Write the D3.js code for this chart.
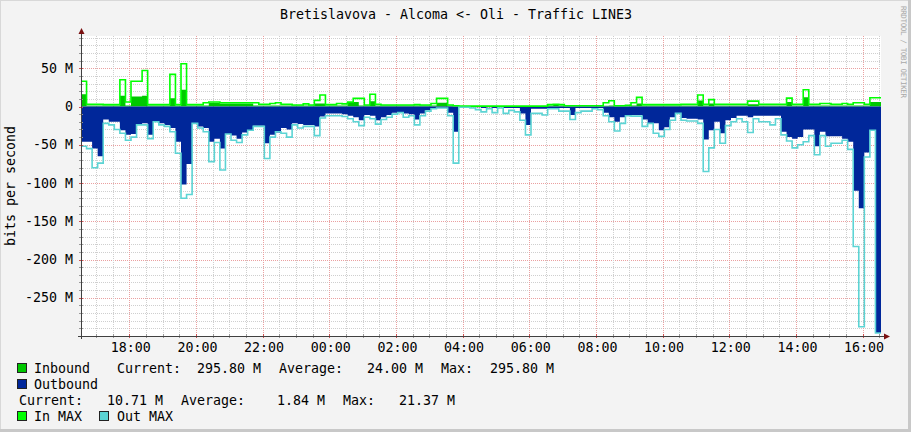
<!DOCTYPE html>
<html><head><meta charset="utf-8">
<script src="https://cdn.jsdelivr.net/npm/d3@7"></script>
<style>
body{margin:0;background:#f3f3f3}
svg{display:block}
text{font-family:"DejaVu Sans Mono",monospace;fill:#000}
</style>
</head><body>
<svg id="c" width="911" height="432"></svg>
<script>
const chartTitle = "Bretislavova - Alcoma <- Oli - Traffic LINE3";
const yAxisTitle = "bits per second";
const watermark = "RRDTOOL / TOBI OETIKER";
const startTime = Date.UTC(2020, 0, 1, 16, 33, 6);
const stepMinutes = 10;

// values in Mbit/s, one per 10 minutes
const inbound = [
16,1.5,1.5,1.5,1.5,1.5,1.5,14,1.5,13,13,14,1.5,1.5,1.5,1.5,10.7,1.5,22,1.5,1.5,1.5,1.5,5,5,4,4,4,4,4,4,1.5,1.5,1.5,1.5,1.5,
1.5,1.5,1.5,1.5,1.5,1.5,4,4,1.5,1.5,1.5,1.5,6,6,1.5,1.5,7,1.5,1.5,1.5,1.5,1.5,1.5,1.5,1.5,1.5,1.5,1.5,5,5,1.5,0.3,0.3,0.3,0.3,0.3,
0.3,0.3,0.3,0.3,0.3,0.3,0.3,0.3,0.3,0.3,0.3,0.3,1.5,2,1.5,0.5,0.5,0.5,0.5,0.5,0.5,0.5,1,1.5,0.5,0.5,0.5,1.5,4,1.5,1.5,1.5,1.5,1.5,1.5,1.5,
1.5,1.5,1.5,8,1.5,4,1.5,1.5,1.5,1.5,1.5,1.5,3,3,1.5,1.5,1.5,1.5,1.5,6,1.5,1.5,12,1.5,1.5,1.5,1.5,1.5,1.5,1.5,1.5,1.5,1.5,1.5,6,6
];
const inMax = [
33,3,3,3,2.5,2.5,2.5,35,6,33,33,47,2.5,2.5,2.5,2.5,42,2.5,56,2.5,2.5,2.5,5,6,6,5,5,5,5,5,5,5,3,3,4,5,
3,3,2,2,3.5,2,8,15,2.5,2.5,4,3.5,6,10.7,10.7,2,16,3,2,2,2,2,2,2,2.5,2,2,4,10.7,10.7,2,1,0.5,0.5,0.5,0.5,
0.5,0.5,0.5,0.5,0.5,0.5,0.5,0.5,0.5,0.5,0.5,0.5,2.5,3,2.5,1,1,1,1,1,1,1,5,7.6,1,1,1.5,5,12,2.5,2.5,2.5,2.5,2.5,2.5,2.5,
3,3,3,15,3,9,3,3,3,3,3,3,7,7,3,3,3,3,3,11,3,3,22,3,3,4,4,3,3,4,3,5,5,3,11.5,11.5
];
const outbound = [
-46,-46,-55,-65,-17,-20,-20,-31,-37,-36,-24,-22,-37,-20,-22,-24,-28,-46,-102,-75,-22,-26,-28,-46,-42,-55,-36,-38,-42,-34,-32,-25,-25,-48,-37,-34,
-28,-30,-22,-23,-24,-24,-26,-13,-9,-9,-9,-10,-12,-14,-18,-11,-12,-18,-14,-11,-8,-8,-9,-10,-17,-9,-5,-3,-2,-2,-8,-33,-1,-1,-1,-1,
-2,-1,-2,-1,-2,-2,-2,-9,-24,-3,-3,-3,-2,-2,-2,-2,-11,-2,-2,-2,-2,-2,-8,-14,-20,-14,-11,-11,-11,-17,-22,-22,-31,-27,-14,-9,
-15,-16,-16,-17,-43,-31,-20,-35,-18,-15,-12,-12,-14,-12,-12,-12,-12,-12,-33,-40,-42,-40,-30,-30,-52,-33,-39,-39,-39,-42,-46,-110,-133,-60,-31,-296
];
const outMax = [
-52,-55,-80,-74,-22,-24,-30,-35,-44,-40,-24,-24,-42,-20,-24,-26,-33,-61,-120,-115,-22,-28,-33,-72,-47,-83,-36,-44,-47,-37,-31,-26,-26,-68,-40,-33,
-35,-40,-24,-28,-26,-26,-38,-15,-12,-12,-12,-13,-16,-20,-25,-14,-16,-23,-17,-14,-10,-8,-14,-12,-24,-12,-6,-3,-2,-2,-12,-74,-1,-1,-2,-4,
-7,-3,-8,-2,-9,-5,-7,-18,-37,-9,-9,-11,-3,-3,-6,-6,-17,-8,-6,-6,-3,-4,-12,-20,-32,-22,-12,-12.5,-12.5,-26,-22,-35,-39,-30,-18,-9,
-18,-19,-19,-22,-85,-54,-30,-48,-25,-20,-16,-20,-34,-16,-20,-20,-24,-16,-37,-45,-54,-50,-46,-38,-63,-38,-52,-48,-48,-44,-56,-183,-288,-66,-31,-296
];

const yTickValues = [50, 0, -50, -100, -150, -200, -250];
const yTickLabels = ["50 M", "0", "-50 M", "-100 M", "-150 M", "-200 M", "-250 M"];
const xTickHours = [18, 20, 22, 24, 26, 28, 30, 32, 34, 36, 38, 40];
const xTickLabels = ["18:00","20:00","22:00","00:00","02:00","04:00","06:00","08:00","10:00","12:00","14:00","16:00"];

const legendRow1 = ["Inbound", "Current:", "295.80 M", "Average:", "24.00 M", "Max:", "295.80 M"];
const legendRow2 = ["Outbound"];
const legendRow3 = ["Current:", "10.71 M", "Average:", "1.84 M", "Max:", "21.37 M"];
const legendRow4 = ["In MAX", "Out MAX"];

const colors = {inbound:"#00c800", outbound:"#00279a", inMax:"#00ff00", outMax:"#5cd4d4"};

const svg = d3.select("#c");
const W = 911, H = 432;
const L = 81, R = 881, T = 36, B = 336;
const dayStart = Date.UTC(2020, 0, 1, 0, 0, 0);
const x = d3.scaleUtc().domain([new Date(startTime), new Date(startTime + 24*3600*1000)]).range([L, R]);
const y = d3.scaleLinear().domain([-300, 92.2]).range([B, T]);

// background + 3D frame
svg.append("rect").attr("width", W).attr("height", H).attr("fill", "#f3f3f3");
svg.append("line").attr("x1",0).attr("y1",0.5).attr("x2",W).attr("y2",0.5).attr("stroke","#d8d8d8");
svg.append("line").attr("x1",0.5).attr("y1",0).attr("x2",0.5).attr("y2",H).attr("stroke","#d8d8d8");
svg.append("rect").attr("x",W-3).attr("y",0).attr("width",3).attr("height",H).attr("fill","#c8c8c8");
svg.append("rect").attr("x",0).attr("y",H-3).attr("width",W).attr("height",3).attr("fill","#c8c8c8");

// canvas
svg.append("rect").attr("x", L).attr("y", T).attr("width", R-L).attr("height", B-T).attr("fill", "#fff");

// grid
const grid = svg.append("g").attr("shape-rendering","crispEdges");
for (let v = -290; v <= 90; v += 10) {
  const major = v % 50 === 0;
  grid.append("line").attr("x1", L).attr("x2", R).attr("y1", Math.round(y(v))+0.5).attr("y2", Math.round(y(v))+0.5)
    .attr("stroke", major ? "#eaa0a0" : "#cfcfcf").attr("stroke-dasharray","1,1");
}
const t0 = Math.ceil((startTime - dayStart) / 1800000);
for (let k = t0; ; k++) {
  const t = dayStart + k*1800000;
  if (t > startTime + 24*3600*1000) break;
  const major = (k % 4 === 0);
  const xx = Math.round(x(new Date(t))) + 0.5;
  grid.append("line").attr("x1", xx).attr("x2", xx).attr("y1", T).attr("y2", B)
    .attr("stroke", major ? "#eaa0a0" : "#cfcfcf").attr("stroke-dasharray","1,1");
  svg.append("line").attr("x1", xx).attr("x2", xx).attr("y1", B-2).attr("y2", B+2)
    .attr("stroke", major ? "#d05050" : "#999").attr("shape-rendering","crispEdges");
}

// data
function series(arr) {
  const pts = arr.map((v, i) => ({t: new Date(startTime + i*stepMinutes*60000), v}));
  pts.push({t: new Date(startTime + arr.length*stepMinutes*60000), v: arr[arr.length-1]});
  return pts;
}
const area = d3.area().curve(d3.curveStepAfter).x(d => x(d.t)).y0(y(0)).y1(d => y(d.v));
const line = d3.line().curve(d3.curveStepAfter).x(d => x(d.t)).y(d => y(d.v));
const plot = svg.append("g");
plot.append("path").attr("d", area(series(inbound))).attr("fill", colors.inbound);
plot.append("path").attr("d", area(series(outbound))).attr("fill", colors.outbound);
plot.append("path").attr("d", line(series(inMax))).attr("fill","none").attr("stroke", colors.inMax).attr("stroke-width", 1.6);
plot.append("path").attr("d", line(series(outMax))).attr("fill","none").attr("stroke", colors.outMax).attr("stroke-width", 1.6);

// y ticks on axis
for (let v = -300; v <= 90; v += 10) {
  const yy = Math.round(y(v)) + 0.5;
  svg.append("line").attr("x1", L-2).attr("x2", L+2).attr("y1", yy).attr("y2", yy)
    .attr("stroke", v % 50 === 0 ? "#d05050" : "#999").attr("shape-rendering","crispEdges");
}

// axes
svg.append("line").attr("x1", L+0.5).attr("x2", L+0.5).attr("y1", B+3).attr("y2", T-4).attr("stroke", "#404040").attr("shape-rendering","crispEdges");
svg.append("line").attr("x1", L-3).attr("x2", R+3).attr("y1", B+0.5).attr("y2", B+0.5).attr("stroke", "#404040").attr("shape-rendering","crispEdges");
svg.append("path").attr("d", `M${L+0.5},${T-8} L${L-2.5},${T-2} L${L+3.5},${T-2} Z`).attr("fill", "#7a1010");
svg.append("path").attr("d", `M${R+9},${B+0.5} L${R+3},${B-2.5} L${R+3},${B+3.5} Z`).attr("fill", "#7a1010");

// y labels
yTickValues.forEach((v, i) => {
  svg.append("text").attr("x", 73).attr("y", y(v) + 4.5).attr("text-anchor", "end")
    .attr("font-size", "13.3px").text(yTickLabels[i]);
});
// x labels
xTickHours.forEach((h, i) => {
  svg.append("text").attr("x", x(new Date(dayStart + h*3600000)) + 1.5).attr("y", 351.5).attr("text-anchor", "middle")
    .attr("font-size", "13.3px").text(xTickLabels[i]);
});

// title
svg.append("text").attr("x", 456).attr("y", 18.5).attr("text-anchor", "middle").attr("font-size", "13.3px").text(chartTitle);
svg.append("text").attr("transform", "translate(14.5,186) rotate(-90)").attr("text-anchor", "middle")
  .attr("font-size", "13.3px").text(yAxisTitle);
svg.append("text").attr("transform", "translate(900.5,6) rotate(90)").attr("text-anchor", "start")
  .attr("font-size", "7.5px").attr("textLength", 92).attr("lengthAdjust", "spacing")
  .style("fill", "#a8a8a8").text(watermark);

// legend
function box(xx, yy, c) {
  svg.append("rect").attr("x", xx+0.5).attr("y", yy+0.5).attr("width", 9).attr("height", 9)
    .attr("fill", c).attr("stroke", "#222").attr("stroke-width", 1).attr("shape-rendering","crispEdges");
}
function txt(xx, yy, s) {
  svg.append("text").attr("x", xx).attr("y", yy).attr("font-size", "13.3px").attr("xml:space","preserve").text(s);
}
const row1X = [34, 117, 197, 279, 367, 441, 490];
box(17, 363, colors.inbound);
legendRow1.forEach((s, i) => txt(row1X[i], 373, s));
box(17, 379, colors.outbound);
txt(34, 389, legendRow2[0]);
const row3X = [19, 107, 181, 277, 343, 399];
legendRow3.forEach((s, i) => txt(row3X[i], 405, s));
box(17, 411, colors.inMax);
txt(34, 421, legendRow4[0]);
box(99, 411, colors.outMax);
txt(117, 421, legendRow4[1]);
</script>
</body></html>
